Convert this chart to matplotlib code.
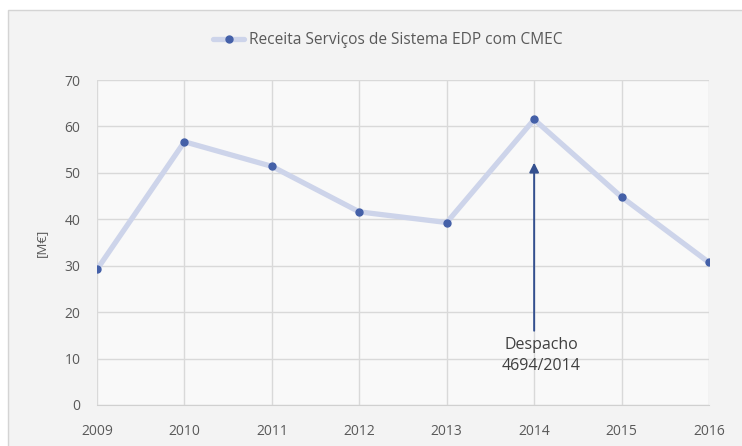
import matplotlib.pyplot as plt
from matplotlib.patches import Rectangle

# Receita anual (M€)
anos = [2009, 2010, 2011, 2012, 2013, 2014, 2015, 2016]
receita = [29.2, 56.7, 51.4, 41.6, 39.3, 61.5, 44.8, 30.7]
serie_nome = "Receita Serviços de Sistema EDP com CMEC"
yticks = [0, 10, 20, 30, 40, 50, 60, 70]

# Seta do despacho
nota_texto = "Despacho\n4694/2014"
nota_ano = 2014
nota_topo = 52.2
nota_base = 16.0
nota_txt_y = 10.7

plt.rcParams['font.family'] = ['Open Sans', 'DejaVu Sans']
cinza = '#595959'

fig = plt.figure(figsize=(7.42, 4.46), dpi=100, facecolor='white')

# moldura do grafico
fig.patches.append(Rectangle((8 / 742, -0.05), 1.0, 1 - 9.5 / 446 + 0.05,
                             transform=fig.transFigure, facecolor='#f3f3f3',
                             edgecolor='#d4d4d4', linewidth=1.0, zorder=-10))

ax = fig.add_axes([97 / 742, 1 - 405 / 446, (709 - 97) / 742, (405 - 80) / 446])
ax.set_facecolor('#f9f9f9')

ax.plot(anos, receita, color='#cdd4ea', linewidth=3.8, solid_capstyle='round',
        marker='o', markersize=5, markerfacecolor='#4460a8',
        markeredgecolor='#4460a8', label=serie_nome, zorder=3)

ax.set_xlim(anos[0], anos[-1])
ax.set_ylim(0, 70)
ax.set_xticks(anos)
ax.set_yticks(yticks)
ax.grid(True, color='#d9d9d9', linewidth=1.0)
ax.set_axisbelow(True)
for s in ['top', 'right', 'left']:
    ax.spines[s].set_visible(False)
ax.spines['bottom'].set_color('#d0d0d0')
ax.tick_params(length=0, colors=cinza, labelsize=10, pad=12)
ax.tick_params(axis='x', pad=14)
ax.set_ylabel("[M€]", color=cinza, fontsize=9.5, labelpad=12)

ax.annotate("", xy=(nota_ano, nota_topo), xytext=(nota_ano, nota_base),
            arrowprops=dict(arrowstyle='-|>', color='#34508f', lw=1.4,
                            mutation_scale=14, shrinkA=0, shrinkB=0))
ax.text(nota_ano + 0.08, nota_txt_y, nota_texto, ha='center', va='center',
        color='#404040', fontsize=11.5, linespacing=1.45)

leg = fig.legend(loc='center', bbox_to_anchor=(388 / 742, 1 - 40 / 446),
                 frameon=False, fontsize=11.2, handlelength=2.0,
                 handletextpad=0.3, labelcolor=cinza)

fig.savefig('out.png', dpi=100, facecolor='white')
